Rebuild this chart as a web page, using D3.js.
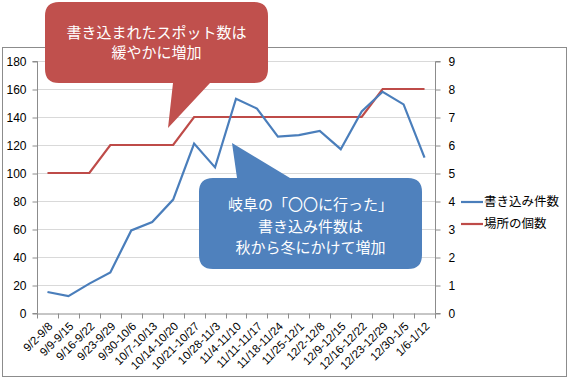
<!DOCTYPE html>
<html lang="ja">
<head>
<meta charset="utf-8">
<script src="https://d3js.org/d3.v7.min.js"></script>
<style>
  body { margin: 0; background: #fff; }
  svg { font-family: "Liberation Sans", "Noto Sans CJK JP", sans-serif; }
</style>
</head>
<body>
<script>
// weekly categories
var weeks = ["9/2-9/8", "9/9-9/15", "9/16-9/22", "9/23-9/29", "9/30-10/6", "10/7-10/13",
  "10/14-10/20", "10/21-10/27", "10/28-11/3", "11/4-11/10", "11/11-11/17", "11/18-11/24",
  "11/25-12/1", "12/2-12/8", "12/9-12/15", "12/16-12/22", "12/23-12/29", "12/30-1/5", "1/6-1/12"];
// 書き込み件数 (left axis)
var posts = [15, 12, 21, 29, 59, 65, 81, 121, 104, 153, 146, 126, 127, 130, 117, 144, 158, 149, 111];
// 場所の個数 (right axis)
var places = [5, 5, 5, 6, 6, 6, 6, 7, 7, 7, 7, 7, 7, 7, 7, 7, 8, 8, 8];
var leftTicks = [0, 20, 40, 60, 80, 100, 120, 140, 160, 180];
var rightTicks = [0, 1, 2, 3, 4, 5, 6, 7, 8, 9];
var seriesNames = ["書き込み件数", "場所の個数"];
var colors = ["#4a7ebb", "#be4b48"];

var W = 571, H = 380;
var svg = d3.select("body").append("svg").attr("width", W).attr("height", H);

// chart frame
svg.append("rect").attr("x", 2.5).attr("y", 47.5).attr("width", 564).attr("height", 329)
  .attr("fill", "#fff").attr("stroke", "#8c8c8c");

var pLeft = 37, pRight = 435, pTop = 61, pBottom = 313;

var x = d3.scaleBand().domain(weeks).range([pLeft, pRight]);
var yL = d3.scaleLinear().domain([0, 180]).range([pBottom, pTop]);
var yR = d3.scaleLinear().domain([0, 9]).range([pBottom, pTop]);

// grid
svg.append("g").selectAll("line").data(leftTicks.slice(1)).enter().append("line")
  .attr("x1", pLeft).attr("x2", pRight)
  .attr("y1", function(d) { return Math.round(yL(d)) + 0.5; })
  .attr("y2", function(d) { return Math.round(yL(d)) + 0.5; })
  .attr("stroke", "#d9d9d9");

// left axis
var gl = svg.append("g").attr("transform", "translate(" + (pLeft + 0.5) + ",0.5)")
  .call(d3.axisLeft(yL).tickValues(leftTicks).tickSize(5).tickPadding(6));
// right axis
var gr = svg.append("g").attr("transform", "translate(" + (pRight + 0.5) + ",0.5)")
  .call(d3.axisRight(yR).tickValues(rightTicks).tickSize(5).tickPadding(8));
// x axis
var gx = svg.append("g").attr("transform", "translate(0," + (pBottom + 0.5) + ")")
  .call(d3.axisBottom(x).tickSize(0).tickFormat(""));
gx.selectAll(".boundary").data(weeks.concat([null])).enter().append("line")
  .attr("class", "boundary")
  .attr("x1", function(d, i) { return Math.round(pLeft + i * x.step()) + 0.5; })
  .attr("x2", function(d, i) { return Math.round(pLeft + i * x.step()) + 0.5; })
  .attr("y1", 0).attr("y2", 5).attr("stroke", "#8c8c8c");

[gl, gr, gx].forEach(function(g) {
  g.selectAll("path, line").attr("stroke", "#8c8c8c");
  g.selectAll("text").attr("font-size", 12).attr("fill", "#000");
});
gl.select(".domain").attr("d", "M-5," + yL(0) + "H0V" + yL(180) + "H-5");
gr.select(".domain").attr("d", "M5," + yR(0) + "H0V" + yR(9) + "H5");

// x labels rotated
svg.append("g").selectAll("text").data(weeks).enter().append("text")
  .attr("transform", function(d) {
    return "translate(" + (x(d) + x.bandwidth() / 2 + 3) + "," + (pBottom + 11) + ") rotate(-45)";
  })
  .attr("text-anchor", "end").attr("dy", "0.35em")
  .attr("font-size", 11.5).text(function(d) { return d; });

// lines
var lineL = d3.line().x(function(d, i) { return x(weeks[i]) + x.bandwidth() / 2; })
  .y(function(d) { return yL(d); });
var lineR = d3.line().x(function(d, i) { return x(weeks[i]) + x.bandwidth() / 2; })
  .y(function(d) { return yR(d); });
svg.append("path").datum(places).attr("d", lineR).attr("fill", "none")
  .attr("stroke", colors[1]).attr("stroke-width", 2.2);
svg.append("path").datum(posts).attr("d", lineL).attr("fill", "none")
  .attr("stroke", colors[0]).attr("stroke-width", 2.2);

// legend
var lg = svg.append("g").selectAll("g").data(seriesNames).enter().append("g")
  .attr("transform", function(d, i) { return "translate(461," + (202 + i * 22) + ")"; });
lg.append("line").attr("x1", 0).attr("x2", 22).attr("stroke", function(d, i) { return colors[i]; })
  .attr("stroke-width", 2.2);
lg.append("text").attr("x", 23).attr("dy", "0.35em").attr("font-size", 12.5)
  .attr("font-family", "Noto Sans CJK JP").text(function(d) { return d; });

// callouts
function callout(box, tail, fill, lines, lineH, textY) {
  var r = 14;
  var p = d3.path();
  var x0 = box[0], y0 = box[1], x1 = box[2], y1 = box[3];
  p.moveTo(x0 + r, y0);
  if (tail.side == "top") { p.lineTo(tail.a, y0); p.lineTo(tail.px, tail.py); p.lineTo(tail.b, y0); }
  p.lineTo(x1 - r, y0); p.quadraticCurveTo(x1, y0, x1, y0 + r);
  p.lineTo(x1, y1 - r); p.quadraticCurveTo(x1, y1, x1 - r, y1);
  if (tail.side == "bottom") { p.lineTo(tail.b, y1); p.lineTo(tail.px, tail.py); p.lineTo(tail.a, y1); }
  p.lineTo(x0 + r, y1); p.quadraticCurveTo(x0, y1, x0, y1 - r);
  p.lineTo(x0, y0 + r); p.quadraticCurveTo(x0, y0, x0 + r, y0);
  p.closePath();
  svg.append("path").attr("d", p.toString()).attr("fill", fill);
  var cx = (x0 + x1) / 2;
  var t = svg.append("text").attr("text-anchor", "middle").attr("fill", "#fff")
    .attr("font-family", "Noto Sans CJK JP").attr("font-size", 15);
  lines.forEach(function(s, i) {
    t.append("tspan").attr("x", cx).attr("y", textY + i * lineH)
      .attr("dy", "0.35em").text(s);
  });
}
callout([45, 2, 268, 83], { side: "bottom", a: 173, b: 210, px: 168, py: 128 }, "#c0504d",
  ["書き込まれたスポット数は", "緩やかに増加"], 20, 33);
callout([199, 178, 422, 269], { side: "top", a: 237, b: 290, px: 232, py: 143 }, "#4f81bd",
  ["岐阜の「〇〇に行った」", "書き込み件数は", "秋から冬にかけて増加"], 21.5, 205);
</script>
</body>
</html>
